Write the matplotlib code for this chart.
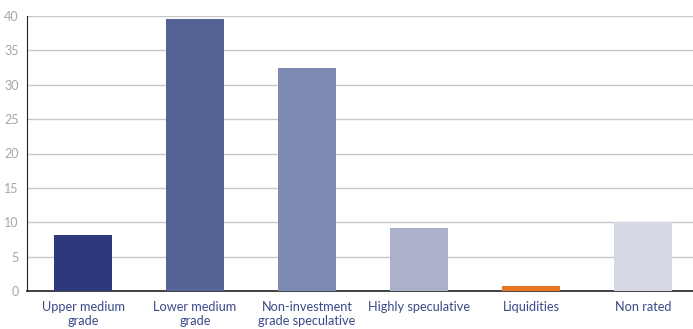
import matplotlib
matplotlib.use("Agg")
import matplotlib.pyplot as plt
import numpy as np

# 데이터
categories = ["Upper medium\ngrade", "Lower medium\ngrade", "Non-investment\ngrade speculative",
              "Highly speculative", "Liquidities", "Non rated"]
values = [8.2, 39.5, 32.5, 9.2, 0.7, 10.0]
colors = ["#2c3a7b", "#546396", "#7f8ab4", "#abb0cb", "#e87722", "#d6d9e4"]
yticks = [0, 5, 10, 15, 20, 25, 30, 35, 40]

plt.rcParams["font.family"] = ["Lato", "DejaVu Sans"]

fig = plt.figure(figsize=(6.93, 3.29), dpi=100)
ax = fig.add_axes([27 / 693, 38 / 329, 672 / 693, 275 / 329])

x = np.arange(len(categories))
ax.bar(x, values, width=0.52, color=colors, zorder=3)

ax.set_xlim(-0.5, len(categories) - 0.5)
ax.set_ylim(0, 40)
ax.set_yticks(yticks)
ax.set_xticks(x)
ax.set_xticklabels(categories, color="#3b4a8a", fontsize=9.2, linespacing=1.25)
ax.tick_params(axis="y", labelcolor="#a6a6a6", labelsize=9, length=0, pad=6)
ax.tick_params(axis="x", length=0, pad=7)
ax.grid(axis="y", color="#c8c8c8", linewidth=1, zorder=0)

for s in ["top", "right"]:
    ax.spines[s].set_visible(False)
ax.spines["left"].set_color("#222222")
ax.spines["left"].set_linewidth(0.8)
ax.spines["bottom"].set_color("#222222")
ax.spines["bottom"].set_linewidth(1.2)

plt.savefig("out.png", dpi=100)
plt.close()
